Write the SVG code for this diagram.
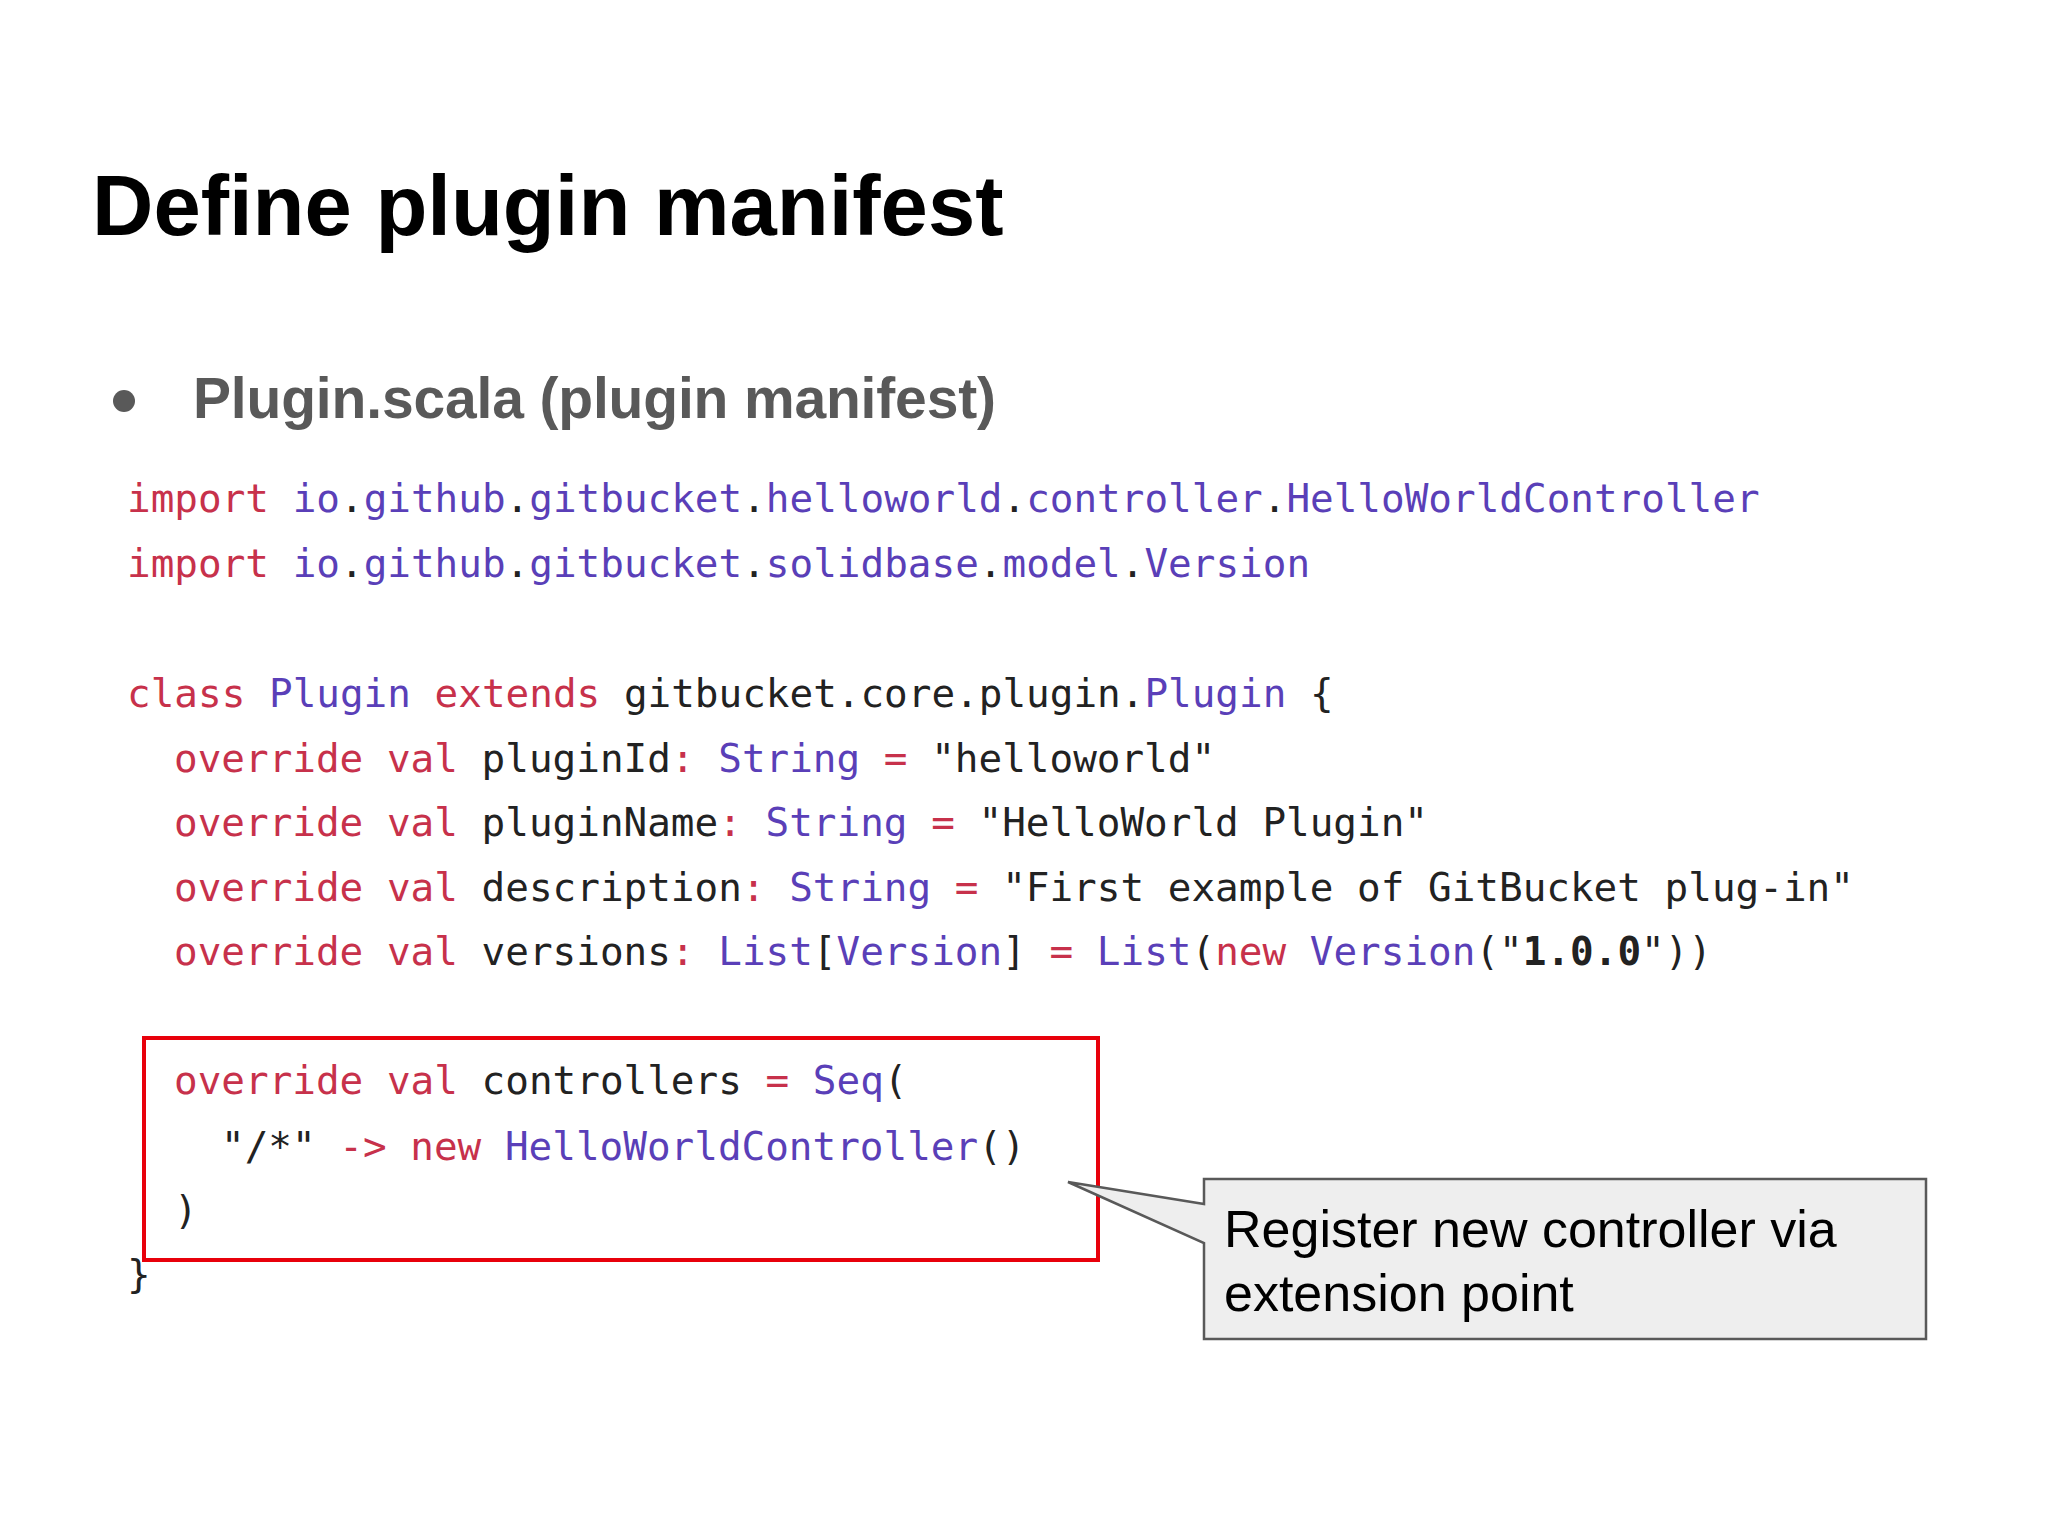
<svg xmlns="http://www.w3.org/2000/svg" width="2048" height="1536" viewBox="0 0 2048 1536">
<style>
.code{font-family:"DejaVu Sans Mono",monospace;font-size:39.3px;fill:#222;white-space:pre}
.k{fill:#c7314b}.t{fill:#5a3fb8}.p{fill:#222}
</style>
<rect width="2048" height="1536" fill="#fff"/>
<g id="title"><text x="92" y="235" font-family="Liberation Sans,Arial,sans-serif" font-weight="bold" font-size="85" fill="#000">Define plugin manifest</text></g>
<g id="bullet">
<circle cx="124" cy="401" r="11" fill="#595959"/>
<text x="193" y="418" font-family="Liberation Sans,Arial,sans-serif" font-weight="bold" font-size="57" fill="#595959" textLength="803">Plugin.scala (plugin manifest)</text>
</g>
<g id="code" class="code">
<text x="127" y="512"><tspan class="k">import</tspan> <tspan class="t">io</tspan>.<tspan class="t">github</tspan>.<tspan class="t">gitbucket</tspan>.<tspan class="t">helloworld</tspan>.<tspan class="t">controller</tspan>.<tspan class="t">HelloWorldController</tspan></text>
<text x="127" y="577"><tspan class="k">import</tspan> <tspan class="t">io</tspan>.<tspan class="t">github</tspan>.<tspan class="t">gitbucket</tspan>.<tspan class="t">solidbase</tspan>.<tspan class="t">model</tspan>.<tspan class="t">Version</tspan></text>
<text x="127" y="707"><tspan class="k">class</tspan> <tspan class="t">Plugin</tspan> <tspan class="k">extends</tspan> gitbucket.core.plugin.<tspan class="t">Plugin</tspan> {</text>
<text x="174" y="772"><tspan class="k">override</tspan> <tspan class="k">val</tspan> pluginId<tspan class="k">:</tspan> <tspan class="t">String</tspan> <tspan class="k">=</tspan> "helloworld"</text>
<text x="174" y="836"><tspan class="k">override</tspan> <tspan class="k">val</tspan> pluginName<tspan class="k">:</tspan> <tspan class="t">String</tspan> <tspan class="k">=</tspan> "HelloWorld Plugin"</text>
<text x="174" y="901"><tspan class="k">override</tspan> <tspan class="k">val</tspan> description<tspan class="k">:</tspan> <tspan class="t">String</tspan> <tspan class="k">=</tspan> "First example of GitBucket plug-in"</text>
<text x="174" y="965"><tspan class="k">override</tspan> <tspan class="k">val</tspan> versions<tspan class="k">:</tspan> <tspan class="t">List</tspan>[<tspan class="t">Version</tspan>] <tspan class="k">=</tspan> <tspan class="t">List</tspan>(<tspan class="k">new</tspan> <tspan class="t">Version</tspan>("<tspan font-weight="bold">1.0.0</tspan>"))</text>
<text x="174" y="1094"><tspan class="k">override</tspan> <tspan class="k">val</tspan> controllers <tspan class="k">=</tspan> <tspan class="t">Seq</tspan>(</text>
<text x="221" y="1160">"/*" <tspan class="k">-&gt;</tspan> <tspan class="k">new</tspan> <tspan class="t">HelloWorldController</tspan>()</text>
<text x="174" y="1224">)</text>
<text x="127" y="1288">}</text>
</g>
<g id="highlight"><rect x="144" y="1038" width="954" height="222" fill="none" stroke="#e8000b" stroke-width="4"/></g>
<g id="callout">
<path d="M1204,1179 H1926 V1339 H1204 V1243 L1068,1182 L1204,1204 Z" fill="#eeeeee" stroke="#595959" stroke-width="2.5"/>
<text font-family="Liberation Sans,Arial,sans-serif" font-size="52" fill="#000"><tspan x="1224" y="1247">Register new controller via</tspan><tspan x="1224" y="1311">extension point</tspan></text>
</g>
</svg>
